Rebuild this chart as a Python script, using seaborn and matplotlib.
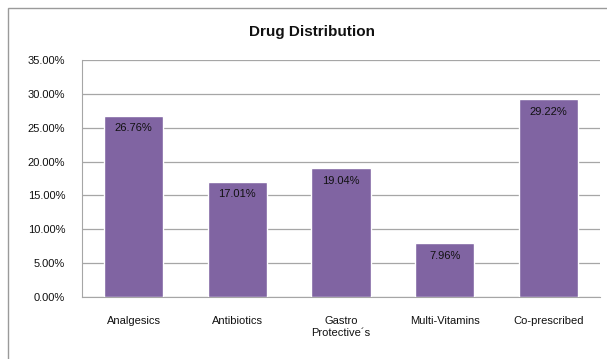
import matplotlib
matplotlib.use("Agg")
import matplotlib.pyplot as plt
import seaborn as sns
import pandas as pd
from matplotlib.patches import Rectangle
from matplotlib.ticker import PercentFormatter

categories = ["Analgesics", "Antibiotics", "Gastro\nProtective\u00b4s", "Multi-Vitamins", "Co-prescribed"]
shares = [26.76, 17.01, 19.04, 7.96, 29.22]
yticks = [0, 5, 10, 15, 20, 25, 30, 35]

df = pd.DataFrame({"category": categories, "share": shares})

sns.set_style("white")
plt.rcParams["font.family"] = ["Liberation Sans", "DejaVu Sans"]

fig = plt.figure(figsize=(6.07, 3.59), dpi=100)
ax = fig.add_axes([82 / 607, 62 / 359, 518 / 607, 237 / 359])

# chart border like the spreadsheet frame
fig.patches.append(Rectangle((8 / 607, -0.1), 1.0, 1.1 - 8 / 359, transform=fig.transFigure,
                             fill=False, edgecolor="#9a9a9a", linewidth=1.0))

sns.barplot(data=df, x="category", y="share", color="#8064A2", saturation=1,
            width=0.57, ax=ax, zorder=3)

for i, v in enumerate(shares):
    ax.text(i, v - 1.1, f"{v:.2f}%", ha="center", va="top", fontsize=8, color="#111111", zorder=4)

ax.set_ylim(0, 35)
ax.set_yticks(yticks)
ax.yaxis.set_major_formatter(PercentFormatter(decimals=2))
ax.grid(axis="y", color="#a6a6a6", linewidth=0.9, zorder=0)
ax.set_xlabel("")
ax.set_ylabel("")
for side in ["top", "right"]:
    ax.spines[side].set_visible(False)
ax.spines["left"].set_color("#a6a6a6")
ax.spines["bottom"].set_color("#a6a6a6")
ax.tick_params(axis="y", labelsize=8, length=0, pad=12, labelcolor="#111111")
ax.tick_params(axis="x", labelsize=8, length=0, pad=14, labelcolor="#111111")
fig.text(312 / 607, 1 - 32 / 359, "Drug Distribution", ha="center", va="center",
         fontsize=11, fontweight="bold", color="#111111")

fig.savefig("out.png", dpi=100)
